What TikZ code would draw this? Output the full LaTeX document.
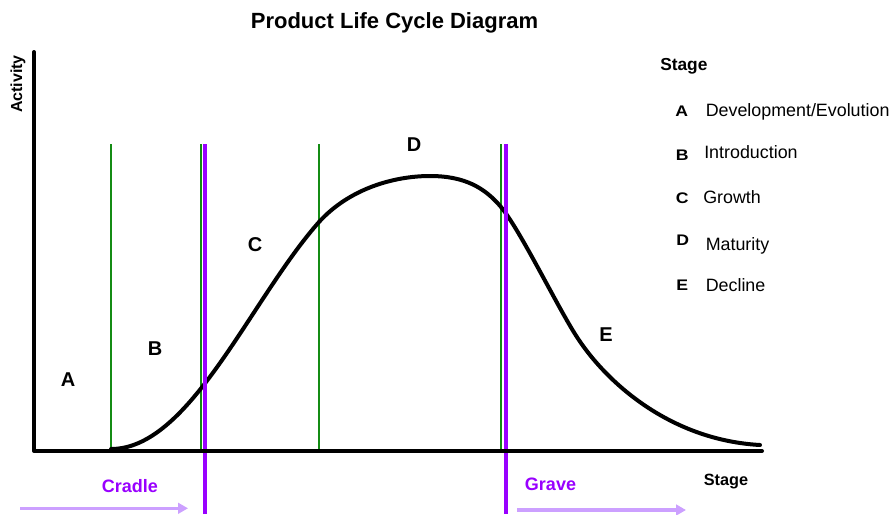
\documentclass[tikz,border=0pt]{standalone}
\usepackage{fontspec}
\setmainfont{Liberation Sans}
\usetikzlibrary{arrows.meta}
\definecolor{stagegreen}{RGB}{20,140,20}
\definecolor{lifepurple}{RGB}{153,0,255}
\definecolor{lightpurple}{RGB}{204,160,255}
\begin{document}
\begin{tikzpicture}[x=0.75pt,y=-0.75pt,
  greenline/.style={draw=stagegreen,line width=1pt},
  purpleline/.style={draw=lifepurple,line width=2.6pt},
  blackline/.style={draw=black,line width=3pt,line cap=round,line join=round},
  stagelabel/.style={font=\fontsize{15}{18}\selectfont\bfseries,inner sep=0pt,anchor=base},
  legletter/.style={font=\fontsize{11.5}{13}\selectfont\bfseries,inner sep=0pt,anchor=base west,xscale=1.15},
  legtext/.style={font=\fontsize{13.4}{16}\selectfont,inner sep=0pt,anchor=base west},
  purpletext/.style={font=\fontsize{13.5}{16}\selectfont\bfseries,text=lifepurple,inner sep=0pt,anchor=base},
  lightarrow/.style={draw=lightpurple,line width=2.3pt,-{Triangle[length=7.5pt,width=8pt]}}
]
\useasboundingbox (0,0) rectangle (891,514);
\fill[white] (0,0) rectangle (891,514);

% title
\node[font=\fontsize{16.5}{20}\selectfont\bfseries,inner sep=0pt,anchor=base] (title) at (394.5,28.3) {Product Life Cycle Diagram};

% green stage boundaries
\foreach \xx/\nm in {111/g1,201/g2,319/g3,501/g4}{
  \coordinate (\nm t) at (\xx,144);
  \coordinate (\nm b) at (\xx,451);
  \draw[greenline] (\nm t) -- (\nm b);
}

% curve
\coordinate (c0) at (111,449);
\coordinate (c1) at (319,222);
\coordinate (c2) at (430,176);
\coordinate (c3) at (501,207);
\coordinate (c4) at (575,334);
\coordinate (c5) at (760,445);
\draw[blackline] (c0) .. controls (190,449) and (250,300) .. (c1)
  .. controls (350,188) and (395,176) .. (c2)
  .. controls (465,176) and (485,188) .. (c3)
  .. controls (520,230) and (555,302) .. (c4)
  .. controls (605,382) and (670,440) .. (c5);

% purple cradle / grave lines
\coordinate (p1t) at (205,144); \coordinate (p1b) at (205,514);
\coordinate (p2t) at (506,144); \coordinate (p2b) at (506,514);
\draw[purpleline] (p1t) -- (p1b);
\draw[purpleline] (p2t) -- (p2b);

% axes
\coordinate (ytop) at (34,52);
\coordinate (origin) at (34,451);
\coordinate (xend) at (762,451);
\draw[blackline] (ytop) -- (origin) -- (xend);

% axis labels
\node[font=\fontsize{12}{14}\selectfont\bfseries,inner sep=0pt,anchor=base,rotate=90] (ylab) at (22,84) {Activity};
\node[font=\fontsize{12.2}{14}\selectfont\bfseries,inner sep=0pt,anchor=base] (xlab) at (726,485) {Stage};

% stage letters
\node[stagelabel] (sA) at (68,386) {A};
\node[stagelabel] (sB) at (155,355) {B};
\node[stagelabel] (sC) at (255,251) {C};
\node[stagelabel] (sD) at (414,151.5) {D};
\node[stagelabel] (sE) at (606,341.5) {E};

% cradle / grave
\node[purpletext] (cradle) at (130,492.3) {Cradle};
\node[purpletext] (grave) at (550.5,490) {Grave};
\coordinate (a1s) at (20,508.3); \coordinate (a1e) at (188,508.3);
\coordinate (a2s) at (517,510); \coordinate (a2e) at (686,510);
\draw[lightarrow] (a1s) -- (a1e);
\draw[lightarrow] (a2s) -- (a2e);

% legend
\node[font=\fontsize{13}{16}\selectfont\bfseries,inner sep=0pt,anchor=base west] (legtitle) at (660,70.7) {Stage};
\node[legletter] (lA) at (675,116) {A};
\node[legtext] (tA) at (705.5,116) {Development/Evolution};
\node[legletter] (lB) at (675.5,160.7) {B};
\node[legtext] (tB) at (704,158.3) {Introduction};
\node[legletter] (lC) at (675.5,203.3) {C};
\node[legtext] (tC) at (703,203.3) {Growth};
\node[legletter] (lD) at (676,245.7) {D};
\node[legtext] (tD) at (705.5,250) {Maturity};
\node[legletter] (lE) at (676,290.7) {E};
\node[legtext] (tE) at (705.5,291.7) {Decline};
\end{tikzpicture}
\end{document}
